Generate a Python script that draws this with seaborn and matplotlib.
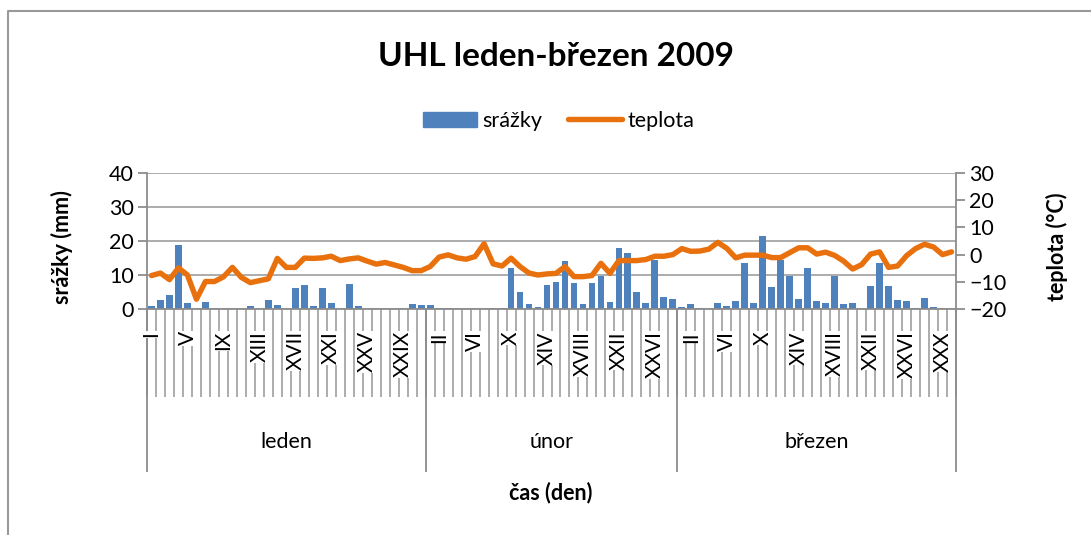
import numpy as np
import pandas as pd
import seaborn as sns
import matplotlib.pyplot as plt
import matplotlib.transforms as mtransforms
from matplotlib.lines import Line2D
from matplotlib.patches import Patch

# daily values Jan-Mar 2009 (90 days)
srazky = [0.9, 2.7, 4.2, 18.7, 1.8, 0.0, 2.1, 0.4, 0.0, 0.0,
          0.0, 0.9, 0.0, 2.7, 1.2, 0.0, 6.2, 7.1, 0.9, 6.2,
          1.8, 0.0, 7.4, 0.9, 0.0, 0.0, 0.0, 0.0, 0.0, 1.5,
          1.2,
          1.2, 0.3, 0.3, 0.0, 0.0, 0.0, 0.0, 0.3, 0.3, 12.2,
          5.0, 1.5, 0.6, 7.1, 8.0, 14.0, 7.7, 1.5, 7.7, 9.8,
          2.1, 17.8, 16.6, 5.0, 1.8, 14.3, 3.6, 3.0,
          0.6, 1.5, 0.3, 0.0, 1.8, 0.9, 2.4, 13.4, 1.8, 21.4,
          6.5, 14.3, 9.6, 3.0, 12.2, 2.4, 1.8, 9.6, 1.5, 1.8,
          0.0, 6.8, 13.4, 6.8, 2.7, 2.4, 0.3, 3.3, 0.6, 0.0,
          0.0]
teplota = [-7.7, -6.8, -9.2, -4.9, -7.5, -16.4, -9.9, -9.9, -8.2, -4.7,
           -8.4, -10.3, -9.6, -8.9, -1.4, -4.7, -4.7, -1.3, -1.4, -1.2,
           -0.6, -2.2, -1.6, -1.2, -2.4, -3.5, -2.9, -3.8, -4.7, -5.9,
           -5.9,
           -4.4, -0.9, -0.1, -1.2, -1.7, -0.7, 4.0, -3.4, -4.2, -1.3,
           -4.4, -6.8, -7.5, -7.1, -6.9, -4.4, -8.1, -8.1, -7.7, -3.2,
           -6.9, -2.2, -2.2, -2.2, -1.8, -0.6, -0.6, 0.0,
           2.2, 1.2, 1.3, 2.0, 4.5, 2.3, -1.2, -0.2, -0.2, -0.2,
           -1.1, -1.1, 0.7, 2.5, 2.5, 0.2, 0.9, -0.3, -2.4, -5.3,
           -3.7, 0.2, 1.0, -4.7, -4.2, -0.4, 2.2, 3.8, 2.8, 0.0,
           1.0]
mesice = ['leden', 'únor', 'březen']
dnu_v_mesici = [31, 28, 31]
popisky_dnu = ['I', 'V', 'IX', 'XIII', 'XVII', 'XXI', 'XXV', 'XXIX',
               'II', 'VI', 'X', 'XIV', 'XVIII', 'XXII', 'XXVI',
               'II', 'VI', 'X', 'XIV', 'XVIII', 'XXII', 'XXVI', 'XXX']

df = pd.DataFrame({'den': np.arange(len(srazky)), 'srazky': srazky, 'teplota': teplota})

sns.set_style('white')
plt.rcParams['font.family'] = ['Lato', 'DejaVu Sans']
plt.rcParams['text.color'] = 'black'

BLUE = '#4f81bd'
ORANGE = '#e8700d'
GRAY = '#8c8c8c'
LGRAY = '#a6a6a6'
FS = 15.5
W, H = 1091, 535

fig = plt.figure(figsize=(W / 100, H / 100), dpi=100)
left, right, top, bottom = 147, 956, 173, 309
ax = fig.add_axes([left / W, 1 - bottom / H, (right - left) / W, (bottom - top) / H])
ax2 = ax.twinx()

sns.barplot(data=df, x='den', y='srazky', ax=ax, color=BLUE, width=0.76,
            saturation=1, linewidth=0, zorder=2)
sns.lineplot(data=df, x='den', y='teplota', ax=ax2, color=ORANGE, lw=3.9,
             solid_joinstyle='round', solid_capstyle='round')

n = len(srazky)
ax.set_xlim(-0.5, n - 0.5)
ax.set_ylim(0, 40)
ax.set_yticks(range(0, 41, 10))
ax2.set_ylim(-20, 30)
ax2.set_yticks(range(-20, 31, 10))

ax.grid(axis='y', color=LGRAY, lw=1.3, zorder=0)
ax.set_axisbelow(True)
for a in (ax, ax2):
    for s in a.spines.values():
        s.set_visible(False)
    a.set_xlabel('')
    a.set_ylabel('')
ax.spines['left'].set_visible(True)
ax.spines['bottom'].set_visible(True)
ax2.spines['right'].set_visible(True)
for s in (ax.spines['left'], ax.spines['bottom'], ax2.spines['right']):
    s.set_color(GRAY)
    s.set_linewidth(1.3)

ax.tick_params(axis='y', direction='out', length=6.5, width=1.3, color=GRAY,
               labelcolor='black', labelsize=FS, pad=3, left=True)
ax2.tick_params(axis='y', direction='out', length=6.5, width=1.3, color=GRAY,
                labelcolor='black', labelsize=FS, pad=3, right=True)

# day labels every 4th day (white box hides the separators behind them)
ax.set_xticks(np.arange(0, n, 4))
ax.set_xticklabels(popisky_dnu, rotation=90, fontsize=15)
for lab in ax.get_xticklabels():
    lab.set_bbox(dict(facecolor='white', edgecolor='none', pad=0.5))
ax.tick_params(axis='x', which='major', length=0, pad=16, labelcolor='black')

trans = mtransforms.blended_transform_factory(ax.transData, ax.transAxes)
ax.vlines(np.arange(-0.5, n, 1), 0, -88 / 136, transform=trans, colors=LGRAY,
          lw=1.3, clip_on=False, zorder=0.2)
hranice = np.concatenate([[0], np.cumsum(dnu_v_mesici)]) - 0.5
ax.vlines(hranice, 0, -1.2, transform=trans, colors=GRAY, lw=1.3,
          clip_on=False, zorder=0.3)
for i, m in enumerate(mesice):
    ax.text((hranice[i] + hranice[i + 1]) / 2, -0.978, m, transform=trans,
            ha='center', va='center', fontsize=FS)

fig.text(556 / W, 1 - 57 / H, 'UHL leden-březen 2009', ha='center', va='center',
         fontsize=24, fontweight='bold')
fig.text(551 / W, 1 - 493 / H, 'čas (den)', ha='center', va='center',
         fontsize=FS, fontweight='bold')
fig.text(62 / W, 1 - 247 / H, 'srážky (mm)', ha='center', va='center',
         rotation=90, fontsize=FS, fontweight='bold')
fig.text(1057 / W, 1 - 247 / H, 'teplota (°C)', ha='center', va='center',
         rotation=90, fontsize=FS, fontweight='bold')

handles = [Patch(color=BLUE), Line2D([0], [0], color=ORANGE, lw=3.9)]
fig.legend(handles, ['srážky', 'teplota'], loc='center', ncol=2,
           bbox_to_anchor=(559 / W, 1 - 121 / H), frameon=False, fontsize=FS,
           handlelength=2.5, handleheight=0.75, handletextpad=0.25,
           columnspacing=1.2)

# outer chart border (only left and top visible)
fig.add_artist(Line2D([8 / W, 8 / W, 1], [0, 1 - 11 / H, 1 - 11 / H],
                      color='#999999', lw=1.5))

fig.savefig('out.png', dpi=100)
